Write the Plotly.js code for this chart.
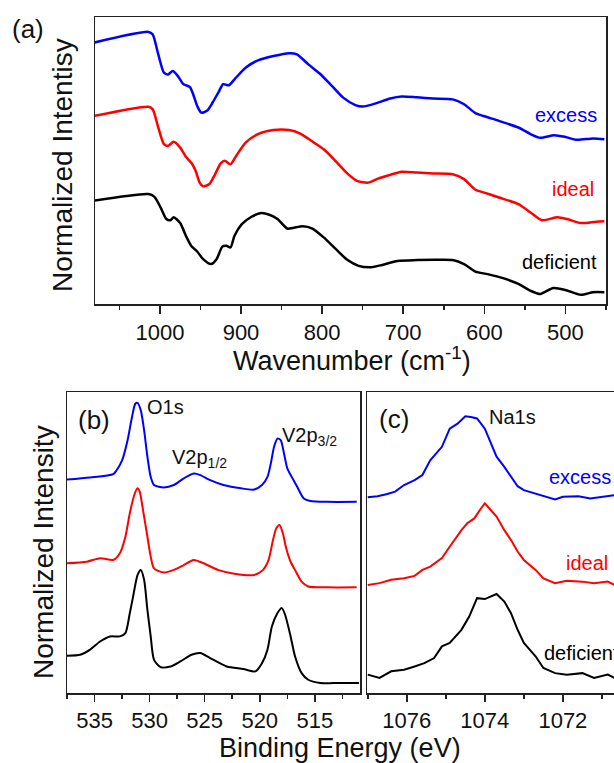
<!DOCTYPE html>
<html><head><meta charset="utf-8">
<script src="https://cdn.plot.ly/plotly-3.0.1.min.js"></script>
<style>html,body{margin:0;padding:0;overflow:hidden;background:#fff}#chart{width:660px;height:763px}</style>
</head><body><div id="chart"></div>
<script>
// ---- Panel (a): FTIR, wavenumber (cm^-1) vs normalized intensity (offset curves) ----
const ftirExcessX = [1081,1014,1009,1002,995,990,984,978,971,963,959,954,949,942,935,927,922,915,908,894,879,860,841,831,817,803,788,774,759,750,735,716,702,683,663,639,625,611,601,582,558,543,531,514,500,486,466,452];
const ftirExcessY = [91.1,94.8,94.0,87.0,80.6,80.0,81.2,79.5,76.6,75.6,73.1,69.0,66.7,67.3,70.2,74.2,76.6,76.2,78.3,82.4,84.9,86.4,87.4,87.0,83.5,80.3,76.0,71.9,69.3,68.8,69.8,71.6,72.3,72.0,71.6,71.3,69.6,66.5,65.5,63.8,61.5,59.2,57.9,58.8,58.2,57.2,57.7,57.4];
const ftirIdealX = [1081,1014,1009,1002,995,990,983,975,968,961,956,951,947,939,932,925,920,913,906,894,879,860,841,827,812,798,783,769,757,743,731,716,702,683,663,639,625,611,601,582,558,543,529,510,498,481,462,452];
const ftirIdealY = [65.5,68.7,67.9,61.5,55.7,55.1,56.5,54.5,51.3,49.1,46.4,42.3,41.0,41.8,45.2,49.0,49.9,48.7,51.6,56.3,59.2,60.6,60.6,59.4,56.6,53.9,49.7,45.5,42.9,42.3,43.7,45.0,46.1,45.8,45.5,45.2,43.5,39.8,38.9,37.1,34.8,31.9,29.2,30.2,29.6,28.2,28.7,28.8];
const ftirDefX = [1081,1014,1007,999,992,987,983,975,968,961,954,947,937,930,923,918,913,908,899,887,875,865,855,843,836,824,812,798,783,769,755,740,726,707,683,659,639,625,611,596,577,558,543,531,515,500,481,466,452];
const ftirDefY = [36.0,38.3,37.4,33.6,29.6,29.2,30.2,28.2,23.8,20.1,18.3,15.7,13.9,15.7,20.0,20.3,19.7,23.8,27.8,30.4,31.7,31.1,29.6,26.3,26.5,27.1,26.3,23.2,19.1,15.4,13.3,12.8,13.6,15.0,15.3,15.4,15.3,13.9,11.3,10.4,9.0,7.0,4.6,3.5,5.6,4.9,3.2,4.1,4.1];

// ---- Panel (b): XPS O1s / V2p, binding energy (eV) ----
const xpsBExcessX = [537.5,535.4,533.3,533.0,532.5,532.0,531.6,531.3,531.1,530.8,530.5,530.2,529.9,529.6,528.7,527.8,526.9,526.0,525.4,524.5,523.3,521.7,520.5,519.8,519.3,519.0,518.7,518.4,518.1,517.8,517.5,517.1,516.6,516.0,515.4,513.9,511.2];
const xpsBExcessY = [70.9,71.6,72.7,74.0,77.3,84.0,91.7,96.1,96.4,93.9,87.3,78.5,71.8,69.1,68.3,69.1,71.3,72.9,72.4,70.7,69.1,68.0,67.6,69.1,71.8,76.2,81.8,84.5,84.0,79.6,74.6,71.8,68.5,64.6,63.8,63.5,63.5];
const xpsBIdealX = [537.5,535.7,534.5,533.3,532.7,532.2,531.8,531.4,531.1,530.9,530.6,530.2,529.9,529.6,528.7,527.8,526.9,526.0,525.1,523.8,522.3,520.5,519.7,519.2,518.8,518.5,518.2,517.9,517.6,517.2,516.8,516.2,515.6,513.9,511.2];
const xpsBIdealY = [43.1,43.6,44.8,44.2,46.4,51.9,59.7,65.7,68.0,66.9,60.8,51.9,45.3,41.4,40.0,40.9,42.5,44.2,43.1,40.9,39.6,39.2,40.9,44.2,50.8,54.7,55.8,53.0,48.1,43.6,40.9,37.0,35.4,35.1,35.1];
const xpsBDefX = [537.5,536.3,535.4,534.5,533.6,532.7,532.2,531.8,531.5,531.1,530.8,530.5,530.2,529.9,529.6,529.0,528.1,527.2,526.2,525.4,524.5,523.0,521.5,520.4,519.8,519.3,518.9,518.4,518.0,517.7,517.2,516.8,516.2,515.6,514.5,513.3,511.0];
const xpsBDefY = [12.4,12.7,14.4,17.1,18.8,18.8,19.9,26.5,32.0,39.2,40.9,37.6,27.6,18.8,11.0,8.6,8.8,10.5,12.7,13.3,11.6,8.8,8.0,7.2,9.9,14.4,22.1,26.5,28.2,26.0,18.8,12.2,6.6,4.4,3.3,3.3,3.3];

// ---- Panel (c): XPS Na1s ----
const xpsCExcessX = [1077.0,1076.75,1076.5,1076.3,1076.07,1075.8,1075.6,1075.4,1075.1,1074.9,1074.7,1074.5,1074.36,1074.2,1074.0,1073.85,1073.7,1073.5,1073.33,1073.16,1073.0,1072.7,1072.5,1072.2,1072.0,1071.6,1071.3,1070.9,1070.67,1070.4];
const xpsCExcessY = [65.0,65.4,66.1,66.9,69.1,70.7,72.4,77.3,81.8,87.8,89.5,91.9,91.7,91.2,87.8,83.4,78.5,75.1,71.8,68.7,67.4,66.3,65.4,64.3,65.2,65.4,64.6,65.4,65.7,65.3];
const xpsCIdealX = [1077.0,1076.7,1076.4,1076.07,1075.8,1075.6,1075.4,1075.1,1074.9,1074.6,1074.45,1074.27,1074.1,1074.0,1073.85,1073.7,1073.5,1073.33,1073.16,1073.0,1072.7,1072.5,1072.2,1071.9,1071.5,1071.2,1070.85,1070.67,1070.4];
const xpsCIdealY = [35.9,36.5,37.6,38.1,38.9,40.9,42.0,44.8,48.6,54.1,56.4,58.0,61.3,63.0,60.8,58.6,54.1,50.8,47.0,44.2,40.9,38.1,36.5,37.3,37.0,36.5,37.0,35.9,36.4];
const xpsCDefX = [1077.0,1076.7,1076.4,1076.07,1075.8,1075.55,1075.3,1075.1,1074.9,1074.6,1074.4,1074.2,1074.0,1073.85,1073.7,1073.5,1073.33,1073.16,1073.0,1072.7,1072.5,1072.2,1071.9,1071.5,1071.2,1070.85,1070.67,1070.4];
const xpsCDefY = [6.1,5.0,7.2,7.7,8.8,9.9,11.6,15.5,16.6,21.0,25.4,31.5,31.2,32.0,32.9,30.4,26.5,21.0,16.6,12.2,8.3,6.6,6.1,6.6,5.0,6.1,5.0,5.6];

const seriesNames = ['excess','ideal','deficient'];

const W = 660, H = 763;
const BLUE = '#0000ff', RED = '#ff0000', BLACK = '#000000';
const FONT = 'Arial, "Liberation Sans", sans-serif';

function tr(x, y, color, xa, ya, shape, w, name) {
  return {x: x, y: y, type: 'scatter', mode: 'lines', name: name, xaxis: xa, yaxis: ya,
    line: {color: color, width: w, shape: shape, smoothing: 0.7}, showlegend: false, hoverinfo: 'skip'};
}
const data = [
  tr(ftirExcessX, ftirExcessY, BLUE, 'x', 'y', 'spline', 2.5, seriesNames[0]),
  tr(ftirIdealX, ftirIdealY, RED, 'x', 'y', 'spline', 2.5, seriesNames[1]),
  tr(ftirDefX, ftirDefY, BLACK, 'x', 'y', 'spline', 2.5, seriesNames[2]),
  tr(xpsBExcessX, xpsBExcessY, BLUE, 'x2', 'y2', 'spline', 2, seriesNames[0]),
  tr(xpsBIdealX, xpsBIdealY, RED, 'x2', 'y2', 'spline', 2, seriesNames[1]),
  tr(xpsBDefX, xpsBDefY, BLACK, 'x2', 'y2', 'spline', 2, seriesNames[2]),
  tr(xpsCExcessX, xpsCExcessY, BLUE, 'x3', 'y3', 'linear', 2, seriesNames[0]),
  tr(xpsCIdealX, xpsCIdealY, RED, 'x3', 'y3', 'linear', 2, seriesNames[1]),
  tr(xpsCDefX, xpsCDefY, BLACK, 'x3', 'y3', 'linear', 2, seriesNames[2])
];

const px = v => v / W, py = v => 1 - v / H;
function xax(d, range, dtick, mdtick, ticklen, standoff, anchor) {
  return {domain: [px(d[0]), px(d[1])], range: range, anchor: anchor, showline: true, mirror: true, linecolor: '#222', linewidth: 1.5,
    ticks: 'outside', ticklen: ticklen, tickwidth: 1.5, tickcolor: '#222', dtick: dtick, tick0: 0,
    ticklabelstandoff: standoff,
    minor: {dtick: mdtick, ticks: 'outside', ticklen: 4, tickwidth: 1.5, tickcolor: '#222', showgrid: false},
    showgrid: false, zeroline: false, tickfont: {family: FONT, size: 22, color: '#111'}, fixedrange: true};
}
function yax(d, anchor) {
  return {domain: [py(d[1]), py(d[0])], range: [0, 100], anchor: anchor, showline: true, mirror: true, linecolor: '#222', linewidth: 1.5,
    ticks: '', showticklabels: false, showgrid: false, zeroline: false, fixedrange: true};
}
function A(text, x, y, size, color, xanchor, angle) {
  return {text: text, xref: 'paper', yref: 'paper', x: px(x), y: py(y), showarrow: false,
    xanchor: xanchor || 'center', yanchor: 'middle', textangle: angle || 0,
    font: {family: FONT, size: size, color: color || '#111'}};
}

const layout = {
  width: W, height: H, margin: {l: 0, r: 0, t: 0, b: 0}, paper_bgcolor: '#fff', plot_bgcolor: '#fff',
  xaxis: xax([95, 606], [1080, 450], 100, 50, 8, 0, 'y'),
  yaxis: yax([17, 304], 'x'),
  xaxis2: xax([67, 360], [537.5, 510.9], 5, 2.5, 7, 0, 'y2'),
  yaxis2: yax([392, 693], 'x2'),
  xaxis3: xax([367, 630], [1077.02, 1070.28], 2, 1, 7, 0, 'y3'),
  yaxis3: yax([392, 693], 'x3'),
  annotations: [
    A('(a)', 28, 29, 26),
    A('Normalized Intentisy', 63, 165, 28, '#111', 'center', -90),
    A('Wavenumber (cm<sup>-1</sup>)', 352, 359, 27),
    A('excess', 599, 115, 20, BLUE, 'right'),
    A('ideal', 596, 189, 20, RED, 'right'),
    A('deficient', 599, 262, 20, BLACK, 'right'),
    A('(b)', 94, 420, 26),
    A('O1s', 145, 407, 20, '#111', 'left'),
    A('V2p<sub>1/2</sub>', 170, 458, 20, '#111', 'left'),
    A('V2p<sub>3/2</sub>', 280, 436, 20, '#111', 'left'),
    A('Normalized Intensity', 43, 552, 28, '#111', 'center', -90),
    A('Binding Energy (eV)', 340, 748, 27),
    A('(c)', 394, 419, 26),
    A('Na1s', 487, 417, 20, '#111', 'left'),
    A('excess', 613, 477, 20, BLUE, 'right'),
    A('ideal', 610, 563, 20, RED, 'right'),
    A('deficient', 542, 653, 20, BLACK, 'left')
  ]
};
Plotly.newPlot('chart', data, layout, {displayModeBar: false, staticPlot: true});
</script>
</body></html>
